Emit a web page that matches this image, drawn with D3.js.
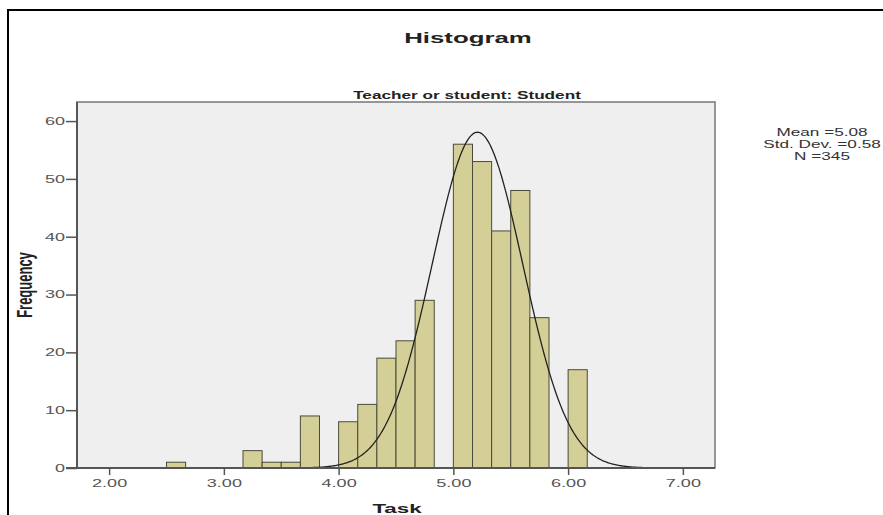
<!DOCTYPE html>
<html>
<head>
<meta charset="utf-8">
<script src="https://cdn.jsdelivr.net/npm/d3@7"></script>
<style>
  html, body { margin: 0; padding: 0; background: #fff; }
  svg { display: block; font-family: Arial, "Liberation Sans", sans-serif; }
</style>
</head>
<body>
<div id="chart"></div>
<script>
// Bin left edges (width 1/6) and frequencies
const binStarts = [2.5, 3.1667, 3.3333, 3.5, 3.6667, 4.0, 4.1667, 4.3333, 4.5, 4.6667,
                   5.0, 5.1667, 5.3333, 5.5, 5.6667, 6.0];
const counts = [1, 3, 1, 1, 9, 8, 11, 19, 22, 29, 56, 53, 41, 48, 26, 17];
const binWidth = 1 / 6;
const xTicks = [2, 3, 4, 5, 6, 7];
const yTicks = [0, 10, 20, 30, 40, 50, 60];
const statLines = ["Mean =5.08", "Std. Dev. =0.58", "N =345"];
// normal curve as drawn in the picture
const curveMean = 5.21;
const curveSd = 0.395;
const total = 345;

const width = 883, height = 515;
const plot = { left: 77, right: 715, top: 102, bottom: 468 };
const stretch = 1.72;  // the original picture is widened, text included

const svg = d3.select("#chart").append("svg")
    .attr("width", width)
    .attr("height", height);

// outer frame
svg.append("rect")
    .attr("x", 8).attr("y", 10)
    .attr("width", 900).attr("height", 600)
    .attr("fill", "none")
    .attr("stroke", "#000")
    .attr("stroke-width", 2);

const x = d3.scaleLinear().domain([1.72, 7.28]).range([plot.left, plot.right]);
const y = d3.scaleLinear().domain([0, 63.3]).range([plot.bottom, plot.top]);

// plot background
svg.append("rect")
    .attr("x", plot.left).attr("y", plot.top)
    .attr("width", plot.right - plot.left)
    .attr("height", plot.bottom - plot.top)
    .attr("fill", "#efefef")
    .attr("stroke", "#777")
    .attr("stroke-width", 1.5);

// bars
svg.append("g").selectAll("rect")
    .data(binStarts.map((s, i) => ({ s, c: counts[i] })))
    .join("rect")
    .attr("x", d => x(d.s))
    .attr("y", d => y(d.c))
    .attr("width", d => x(d.s + binWidth) - x(d.s))
    .attr("height", d => y(0) - y(d.c))
    .attr("fill", "#d4cf97")
    .attr("stroke", "#4a4a3a")
    .attr("stroke-width", 1);

// normal curve
const curvePts = d3.range(1.72, 7.28, 0.01).map(v => [v,
    total * binWidth / (curveSd * Math.sqrt(2 * Math.PI)) *
    Math.exp(-((v - curveMean) ** 2) / (2 * curveSd * curveSd))]);
svg.append("path")
    .datum(curvePts)
    .attr("d", d3.line().x(d => x(d[0])).y(d => y(d[1])))
    .attr("fill", "none")
    .attr("stroke", "#222")
    .attr("stroke-width", 1.3);

// axes
const xAxis = svg.append("g")
    .attr("transform", `translate(0,${plot.bottom})`)
    .call(d3.axisBottom(x).tickValues(xTicks).tickFormat(d3.format(".2f")).tickSize(7).tickSizeOuter(0));
const yAxis = svg.append("g")
    .attr("transform", `translate(${plot.left},0)`)
    .call(d3.axisLeft(y).tickValues(yTicks).tickSize(11).tickSizeOuter(0));

[xAxis, yAxis].forEach(a => {
    a.select(".domain").attr("stroke", "#555").attr("stroke-width", 2);
    a.selectAll(".tick line").attr("stroke", "#555").attr("stroke-width", 1.5);
    a.selectAll(".tick text").attr("fill", "#555").attr("font-size", 10.5)
        .attr("font-family", "Arial, 'Liberation Sans', sans-serif")
        .attr("transform", `scale(${stretch},1)`);
});
xAxis.select(".domain").attr("d", `M${plot.left - 11},0H${plot.right}`);
yAxis.select(".domain").attr("d", `M0,${plot.top}V${plot.bottom}`);
xAxis.selectAll(".tick text").attr("x", 0).attr("y", 11).attr("dy", "0.8em");
yAxis.selectAll(".tick text").attr("x", -12 / stretch);

// wide text helper
function wideText(tx, ty, size, str, opts = {}) {
    return svg.append("text")
        .attr("transform", `translate(${tx},${ty}) ${opts.rotate ? "scale(" + stretch + ",1) rotate(-90)" : "scale(" + stretch + ",1)"}`)
        .attr("text-anchor", "middle")
        .attr("font-size", size)
        .attr("font-weight", opts.bold ? "bold" : null)
        .attr("fill", opts.fill || "#222")
        .text(str);
}

wideText(468, 43, 15, "Histogram", { bold: true });
wideText(467, 99, 10, "Teacher or student: Student", { bold: true });
wideText(397, 513, 13, "Task", { bold: true });
wideText(32, (plot.top + plot.bottom) / 2, 13, "Frequency", { bold: true, rotate: true });

// stats box
statLines.forEach((s, i) => wideText(822, 136 + i * 12, 10, s, { fill: "#333" }));
</script>
</body>
</html>
